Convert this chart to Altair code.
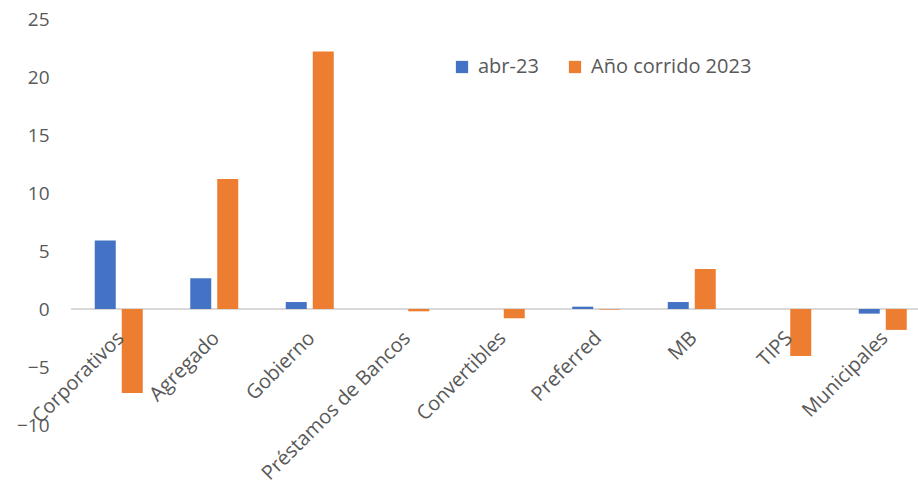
import altair as alt
import pandas as pd

categorias = ["Corporativos", "Agregado", "Gobierno", "Préstamos de Bancos",
              "Convertibles", "Preferred", "MB", "TIPS", "Municipales"]
abr_23 = [5.9, 2.65, 0.6, 0.0, 0.0, 0.2, 0.6, 0.0, -0.4]
anio_corrido = [-7.25, 11.2, 22.2, -0.2, -0.8, -0.05, 3.45, -4.05, -1.8]
series = ["abr-23", "Año corrido 2023"]
colores = ["#4472C4", "#ED7D31"]
y_ticks = [-10, -5, 0, 5, 10, 15, 20, 25]

rows = []
for c, a, b in zip(categorias, abr_23, anio_corrido):
    rows.append({"categoria": c, "serie": series[0], "valor": a})
    rows.append({"categoria": c, "serie": series[1], "valor": b})
df = pd.DataFrame(rows)
df_cat = pd.DataFrame({"categoria": categorias})

FONT = "Open Sans"
GREY = "#595959"

xenc = alt.X("categoria:N", sort=categorias, axis=None,
             scale=alt.Scale(range=[0, 859.5], paddingInner=0, paddingOuter=0))
yscale = alt.Scale(domain=[-10, 25], nice=False, zero=False)
color = alt.Color("serie:N", sort=series,
                  scale=alt.Scale(domain=series, range=colores),
                  legend=alt.Legend(title=None, orient="none", legendX=381, legendY=38,
                                    direction="horizontal", symbolType="square",
                                    symbolSize=150, symbolStrokeWidth=0,
                                    labelFont=FONT, labelFontSize=20, labelColor=GREY,
                                    labelLimit=400, labelOffset=6, columnPadding=26))

yaxis = alt.Axis(values=y_ticks, title=None, grid=False, domain=False,
                 ticks=False, labelFont=FONT, labelFontSize=19,
                 labelColor=GREY, labelPadding=22)

base = alt.Chart(df)
blue = base.transform_filter(alt.datum.serie == series[0]).mark_bar(
    size=21, xOffset=-13.5).encode(
    x=xenc, y=alt.Y("valor:Q", scale=yscale, axis=yaxis), color=color)
orange = base.transform_filter(alt.datum.serie == series[1]).mark_bar(
    size=21, xOffset=13.5).encode(
    x=xenc, y=alt.Y("valor:Q", scale=yscale, axis=yaxis), color=color)

zero = alt.Chart(df_cat).mark_rule(color="#D9D9D9", strokeWidth=2).encode(
    x=alt.value(0), x2=alt.value(847), y=alt.datum(0))

labels = alt.Chart(df_cat).mark_text(
    angle=315, align="right", baseline="middle", dx=-17, dy=20,
    font=FONT, fontSize=20, color=GREY).encode(
    x=xenc, y=alt.datum(0), text="categoria:N")

chart = alt.layer(zero, blue, orange, labels).resolve_axis(y="shared").properties(
    width=847, height=406,
    background="white",
    autosize=alt.AutoSizeParams(type="none"),
    padding={"left": 71, "top": 19, "right": 0, "bottom": 62},
).configure_view(strokeWidth=0).configure_axis(grid=False, domain=False)

chart.save("out.html", embed_options={"renderer": "svg", "actions": False})
